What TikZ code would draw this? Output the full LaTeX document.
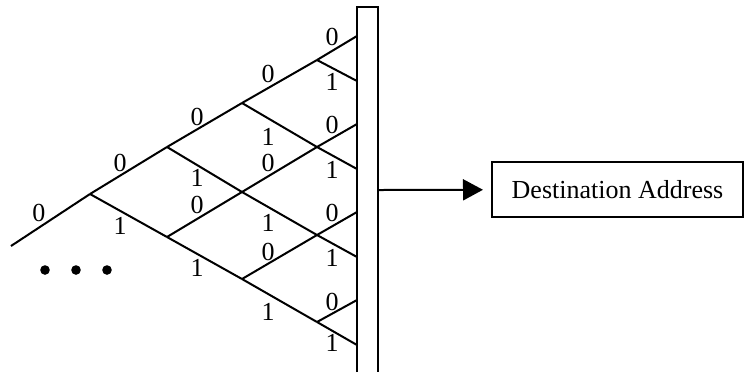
\documentclass[tikz,border=0pt]{standalone}
\usepackage{fontspec}
\setmainfont{Liberation Serif}
\usetikzlibrary{arrows.meta}

\begin{document}
\begin{tikzpicture}[x=0.5pt, y=-0.5pt, line width=1pt,
	bit/.style={inner sep=0pt, font=\fontsize{13}{13}\selectfont},
	dst/.style={draw, minimum width=125.5pt, minimum height=27.5pt,
	font=\fontsize{13}{13}\selectfont}]
\useasboundingbox (0, 0) rectangle (745, 372);
% trellis
\coordinate (r) at (11, 246);
\coordinate (1) at (90, 194);
\coordinate (2) at (167, 147);
\coordinate (3) at (167, 237);
\coordinate (4) at (242, 103);
\coordinate (5) at (242, 192);
\coordinate (6) at (242, 279);
\coordinate (7) at (317, 60);
\coordinate (8) at (317, 147);
\coordinate (9) at (317, 235);
\coordinate (10) at (317, 322);
\coordinate (11) at (357, 36);
\coordinate (12) at (357, 81);
\coordinate (13) at (357, 124);
\coordinate (14) at (357, 169);
\coordinate (15) at (357, 212);
\coordinate (16) at (357, 257);
\coordinate (17) at (357, 300);
\coordinate (18) at (357, 345);
\draw (r) to (1);
\draw (1) to (2);
\draw (1) to (3);
\draw (2) to (4);
\draw (2) to (5);
\draw (3) to (5);
\draw (3) to (6);
\draw (4) to (7);
\draw (4) to (8);
\draw (5) to (8);
\draw (5) to (9);
\draw (6) to (9);
\draw (6) to (10);
\draw (7) to (11);
\draw (7) to (12);
\draw (8) to (13);
\draw (8) to (14);
\draw (9) to (15);
\draw (9) to (16);
\draw (10) to (17);
\draw (10) to (18);
% bits
\node[bit] (b0) at (39, 213) {0};
\node[bit] (b1) at (120, 163) {0};
\node[bit] (b2) at (120, 226) {1};
\node[bit] (b3) at (197, 117) {0};
\node[bit] (b4) at (197, 178) {1};
\node[bit] (b5) at (197, 205) {0};
\node[bit] (b6) at (197, 268) {1};
\node[bit] (b7) at (268, 74) {0};
\node[bit] (b8) at (268, 137) {1};
\node[bit] (b9) at (268, 163) {0};
\node[bit] (b10) at (268, 223) {1};
\node[bit] (b11) at (268, 252) {0};
\node[bit] (b12) at (268, 312) {1};
\node[bit] (b13) at (332, 37) {0};
\node[bit] (b14) at (332, 82) {1};
\node[bit] (b15) at (332, 125) {0};
\node[bit] (b16) at (332, 170) {1};
\node[bit] (b17) at (332, 213) {0};
\node[bit] (b18) at (332, 258) {1};
\node[bit] (b19) at (332, 302) {0};
\node[bit] (b20) at (332, 343) {1};
% dots
\fill (45, 270) circle (4.8);
\fill (76, 270) circle (4.8);
\fill (107, 270) circle (4.8);
% register and output
\draw (357, 372) -- (357, 7) -- (378, 7) -- (378, 372);
\coordinate (out) at (378, 190);
\node[dst] (da) at (617.5, 189.5) {Destination Address};
\draw[-{Triangle[length=10pt, width=10.5pt]}, shorten >=4pt] (out) to (da);
\end{tikzpicture}
\end{document}
